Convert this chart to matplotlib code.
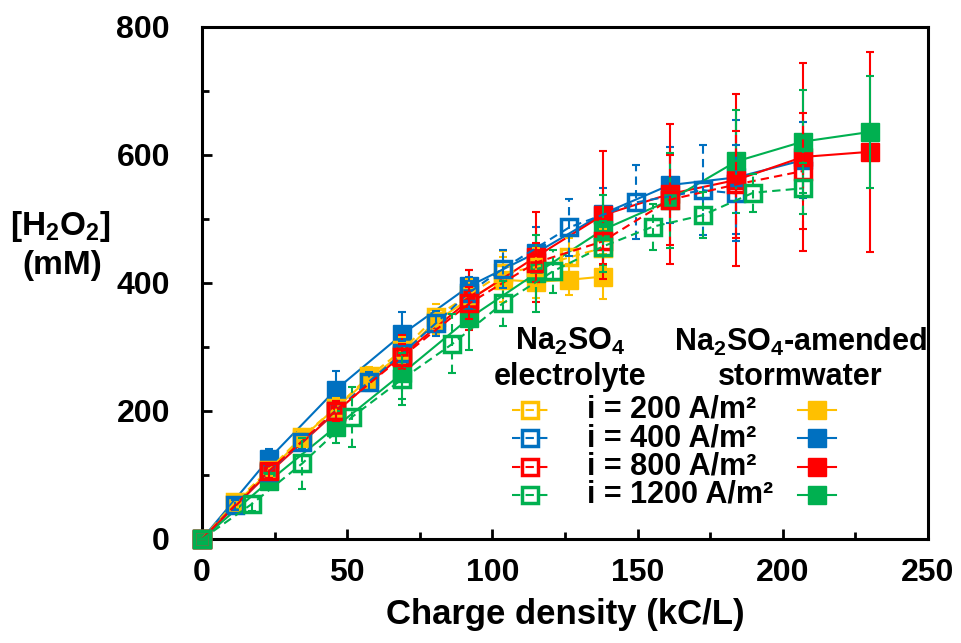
import matplotlib
matplotlib.use('Agg')
from matplotlib import pyplot as plt
from matplotlib.ticker import MultipleLocator

plt.rcParams['font.family'] = ['Liberation Sans', 'DejaVu Sans']
plt.rcParams['font.weight'] = 'bold'
plt.rcParams['mathtext.fontset'] = 'custom'
plt.rcParams['mathtext.rm'] = 'Liberation Sans:bold'
plt.rcParams['mathtext.bf'] = 'Liberation Sans:bold'

# colours (Excel palette)
YEL, BLU, RED, GRN = '#FFC000', '#0070C0', '#FF0000', '#00B050'

# Na2SO4-amended stormwater (filled squares, solid lines)
sw_200_x = [0, 11.5, 23, 34.5, 46, 57.5, 69, 80.5, 92, 103.5, 115, 126.5, 138]
sw_200_y = [0, 55, 105, 158, 205, 250, 290, 340, 375, 405, 402, 405, 410]
sw_200_e = [0, 8, 10, 12, 15, 15, 18, 20, 25, 35, 25, 24, 35]

sw_400_x = [0, 23, 46, 69, 92, 115, 138, 161, 184, 207]
sw_400_y = [0, 125, 233, 320, 395, 447, 508, 553, 565, 592]
sw_400_e = [0, 15, 30, 35, 25, 40, 40, 60, 89, 59]

sw_800_x = [0, 23, 46, 69, 92, 115, 138, 161, 184, 207, 230]
sw_800_y = [0, 103, 198, 288, 373, 441, 506, 539, 561, 597, 605]
sw_800_e = [0, 12, 20, 30, 47, 70, 100, 110, 135, 147, 156]

sw_1200_x = [0, 23, 46, 69, 92, 115, 138, 161, 184, 207, 230]
sw_1200_y = [0, 90, 175, 259, 345, 415, 483, 529, 590, 621, 636]
sw_1200_e = [0, 10, 25, 40, 50, 60, 55, 74, 81, 80, 88]

# Na2SO4 electrolyte (open squares, dashed lines)
el_200_x = [0, 11.5, 23, 34.5, 46, 57.5, 69, 80.5, 92, 103.5, 115, 126.5, 138]
el_200_y = [0, 58, 108, 160, 205, 254, 295, 347, 382, 415, 425, 440, 455]
el_200_e = [0, 8, 10, 12, 15, 15, 20, 20, 25, 35, 30, 30, 30]

el_400_x = [0, 11.5, 23, 34.5, 46, 57.5, 69, 80.5, 92, 103.5, 126.5, 149.5, 172.5, 184]
el_400_y = [0, 53, 105, 152, 200, 246, 290, 337, 385, 422, 487, 526, 545, 540]
el_400_e = [0, 8, 10, 12, 15, 15, 20, 20, 25, 30, 45, 58, 70, 75]

el_800_x = [0, 23, 46, 69, 92, 115, 138, 161, 184, 207]
el_800_y = [0, 106, 200, 285, 368, 432, 465, 530, 554, 575]
el_800_e = [0, 10, 15, 20, 25, 30, 35, 70, 84, 91]

el_1200_x = [0, 17.25, 34.5, 51.75, 69, 86.25, 103.5, 120.75, 138, 155.25, 172.5, 189.75, 207]
el_1200_y = [0, 55, 118, 191, 250, 305, 368, 418, 457, 488, 506, 541, 548]
el_1200_e = [0, 12, 40, 47, 40, 46, 35, 34, 40, 36, 36, 30, 40]

labels = ['i = 200 A/m²', 'i = 400 A/m²', 'i = 800 A/m²', 'i = 1200 A/m²']
colors = [YEL, BLU, RED, GRN]
stormwater = [(sw_200_x, sw_200_y, sw_200_e), (sw_400_x, sw_400_y, sw_400_e),
              (sw_800_x, sw_800_y, sw_800_e), (sw_1200_x, sw_1200_y, sw_1200_e)]
electrolyte = [(el_200_x, el_200_y, el_200_e), (el_400_x, el_400_y, el_400_e),
               (el_800_x, el_800_y, el_800_e), (el_1200_x, el_1200_y, el_1200_e)]

DASH = (0, (4, 2.5))
MS = 13

fig = plt.figure(figsize=(9.62, 6.43), dpi=100)
ax = fig.add_axes([202 / 962, 1 - 539 / 643, 726 / 962, 512 / 643])

z = 2
for (x, y, e), c in zip(stormwater, colors):
    ax.errorbar(x, y, yerr=e, fmt='none', ecolor=c, elinewidth=1.5,
                capsize=3, capthick=1.5, zorder=z, clip_on=False)
    ax.plot(x, y, '-', color=c, lw=1.5, marker='s', ms=MS, mfc=c, mec=c,
            mew=1, zorder=z + 0.5, clip_on=False)
    z += 1

for (x, y, e), c in zip(electrolyte, colors):
    eb = ax.errorbar(x, y, yerr=e, fmt='none', ecolor=c, elinewidth=1.5,
                     capsize=3, capthick=1.5, zorder=z, clip_on=False)
    eb[2][0].set_linestyle(DASH)
    ax.plot(x, y, color=c, lw=1.5, ls=DASH, marker='s', ms=MS - 1, mfc='none',
            mec=c, mew=2.5, zorder=z + 0.5, clip_on=False)
    z += 1

ax.set_xlim(0, 250)
ax.set_ylim(0, 800)
ax.xaxis.set_major_locator(MultipleLocator(50))
ax.xaxis.set_minor_locator(MultipleLocator(25))
ax.yaxis.set_major_locator(MultipleLocator(200))
ax.yaxis.set_minor_locator(MultipleLocator(100))
ax.tick_params(which='both', direction='in', width=2, labelsize=23)
ax.tick_params(which='major', length=7)
ax.tick_params(which='minor', length=5)
ax.tick_params(axis='x', pad=14)
ax.tick_params(axis='y', pad=23)
for s in ax.spines.values():
    s.set_linewidth(2.2)
for lab in ax.get_xticklabels() + ax.get_yticklabels():
    lab.set_fontweight('bold')

ax.set_xlabel('Charge density (kC/L)', fontsize=25, fontweight='bold', labelpad=7)
fig.text(60 / 962, 1 - 226 / 643, r'[H$_\mathbf{2}$O$_\mathbf{2}$]', fontsize=24,
         fontweight='bold', ha='center', va='center')
fig.text(62 / 962, 1 - 265 / 643, '(mM)', fontsize=24, fontweight='bold',
         ha='center', va='center')

# custom legend
T = ax.transAxes
FS = 22
ax.text(0.507, 0.385, r'Na$_\mathbf{2}$SO$_\mathbf{4}$', transform=T, fontsize=FS,
        fontweight='bold', ha='center', va='center')
ax.text(0.507, 0.316, 'electrolyte', transform=T, fontsize=FS,
        fontweight='bold', ha='center', va='center')
ax.text(0.824, 0.385, r'Na$_\mathbf{2}$SO$_\mathbf{4}$-amended', transform=T,
        fontsize=FS, fontweight='bold', ha='center', va='center')
ax.text(0.824, 0.316, 'stormwater', transform=T, fontsize=FS,
        fontweight='bold', ha='center', va='center')
rows = [0.252, 0.197, 0.141, 0.086]
for ry, c, lab in zip(rows, colors, labels):
    ax.plot([0.427, 0.452, 0.477], [ry] * 3, transform=T, color=c, lw=1.5,
            ls=DASH, marker='s', ms=MS - 2, mfc='none', mec=c, mew=2.5,
            markevery=[1], clip_on=False, zorder=20)
    ax.plot([0.821, 0.847, 0.873], [ry] * 3, transform=T, color=c, lw=1.5,
            marker='s', ms=MS, mfc=c, mec=c, markevery=[1], clip_on=False,
            zorder=20)
    ax.text(0.530, ry, lab, transform=T, fontsize=FS, fontweight='bold',
            ha='left', va='center')

fig.savefig('out.png', dpi=100)
